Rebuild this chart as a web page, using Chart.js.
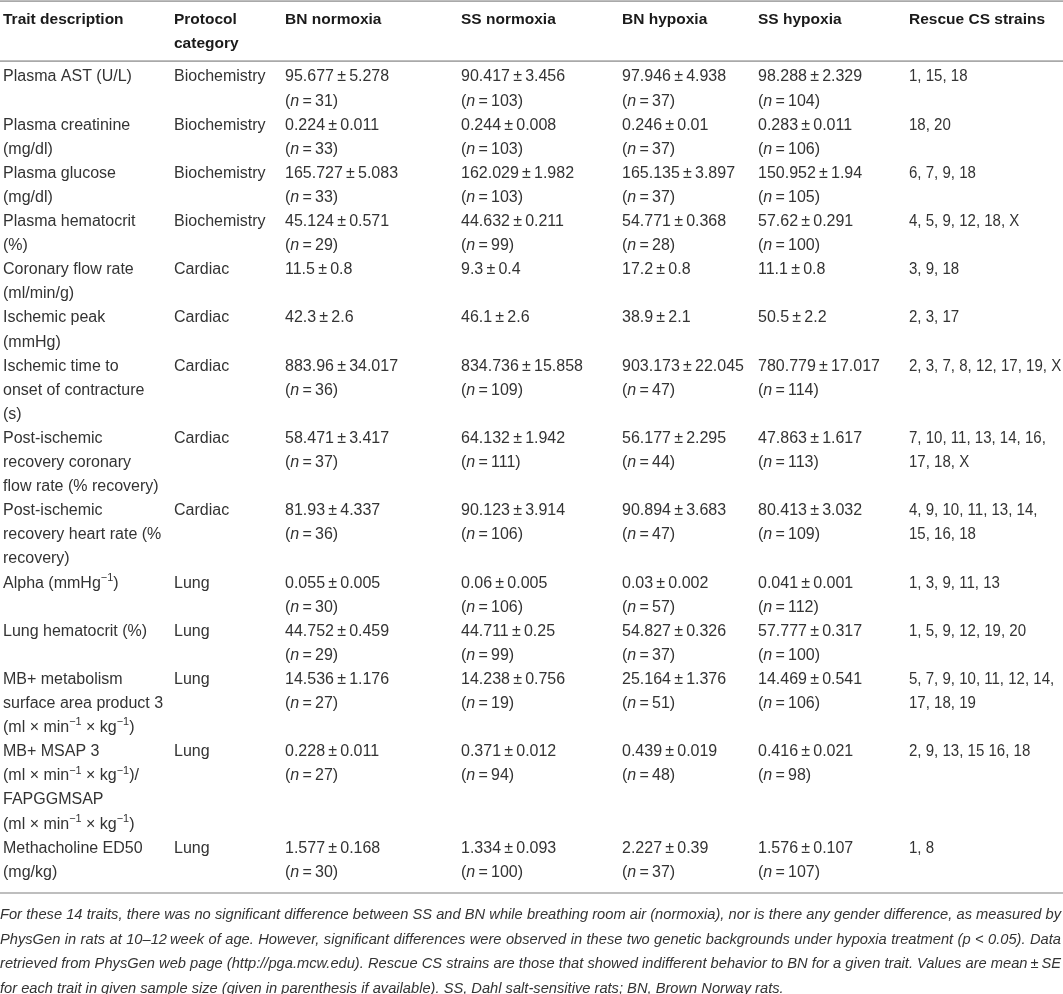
<!DOCTYPE html>
<html>
<head>
<meta charset="utf-8">
<title>PhysGen traits table</title>
<script src="https://cdn.jsdelivr.net/npm/chart.js@4.4.1/dist/chart.umd.min.js"></script>
<style>
  html, body { margin: 0; padding: 0; background: #fff; overflow: hidden; }
  canvas { display: block; }
</style>
</head>
<body>
<canvas id="traitTable" width="1063" height="994"></canvas>
<script>
// ---- table data ----
const colHeaders = [['Trait description'], ['Protocol', 'category'], ['BN normoxia'], ['SS normoxia'],
    ['BN hypoxia'], ['SS hypoxia'], ['Rescue CS strains']];

const traitLines = [
    ['Plasma AST (U/L)'],
    ['Plasma creatinine', '(mg/dl)'],
    ['Plasma glucose', '(mg/dl)'],
    ['Plasma hematocrit', '(%)'],
    ['Coronary flow rate', '(ml/min/g)'],
    ['Ischemic peak', '(mmHg)'],
    ['Ischemic time to', 'onset of contracture', '(s)'],
    ['Post-ischemic', 'recovery coronary', 'flow rate (% recovery)'],
    ['Post-ischemic', 'recovery heart rate (%', 'recovery)'],
    ['Alpha (mmHg^\u22121^)'],
    ['Lung hematocrit (%)'],
    ['MB+ metabolism', 'surface area product 3', '(ml \u00d7 min^\u22121^ \u00d7 kg^\u22121^)'],
    ['MB+ MSAP 3', '(ml \u00d7 min^\u22121^ \u00d7 kg^\u22121^)/', 'FAPGGMSAP', '(ml \u00d7 min^\u22121^ \u00d7 kg^\u22121^)'],
    ['Methacholine ED50', '(mg/kg)']
];

const categories = ['Biochemistry', 'Biochemistry', 'Biochemistry', 'Biochemistry', 'Cardiac', 'Cardiac',
    'Cardiac', 'Cardiac', 'Cardiac', 'Lung', 'Lung', 'Lung', 'Lung', 'Lung'];

const bnNormMean = [95.677, 0.224, 165.727, 45.124, 11.5, 42.3, 883.96, 58.471, 81.93, 0.055, 44.752, 14.536, 0.228, 1.577];
const bnNormSE   = [5.278, 0.011, 5.083, 0.571, 0.8, 2.6, 34.017, 3.417, 4.337, 0.005, 0.459, 1.176, 0.011, 0.168];
const bnNormN    = [31, 33, 33, 29, null, null, 36, 37, 36, 30, 29, 27, 27, 30];

const ssNormMean = [90.417, 0.244, 162.029, 44.632, 9.3, 46.1, 834.736, 64.132, 90.123, 0.06, 44.711, 14.238, 0.371, 1.334];
const ssNormSE   = [3.456, 0.008, 1.982, 0.211, 0.4, 2.6, 15.858, 1.942, 3.914, 0.005, 0.25, 0.756, 0.012, 0.093];
const ssNormN    = [103, 103, 103, 99, null, null, 109, 111, 106, 106, 99, 19, 94, 100];

const bnHypMean = [97.946, 0.246, 165.135, 54.771, 17.2, 38.9, 903.173, 56.177, 90.894, 0.03, 54.827, 25.164, 0.439, 2.227];
const bnHypSE   = [4.938, 0.01, 3.897, 0.368, 0.8, 2.1, 22.045, 2.295, 3.683, 0.002, 0.326, 1.376, 0.019, 0.39];
const bnHypN    = [37, 37, 37, 28, null, null, 47, 44, 47, 57, 37, 51, 48, 37];

const ssHypMean = [98.288, 0.283, 150.952, 57.62, 11.1, 50.5, 780.779, 47.863, 80.413, 0.041, 57.777, 14.469, 0.416, 1.576];
const ssHypSE   = [2.329, 0.011, 1.94, 0.291, 0.8, 2.2, 17.017, 1.617, 3.032, 0.001, 0.317, 0.541, 0.021, 0.107];
const ssHypN    = [104, 106, 105, 100, null, null, 114, 113, 109, 112, 100, 106, 98, 107];

const rescueStrains = [
    ['1, 15, 18'], ['18, 20'], ['6, 7, 9, 18'], ['4, 5, 9, 12, 18, X'], ['3, 9, 18'], ['2, 3, 17'],
    ['2, 3, 7, 8, 12, 17, 19, X'], ['7, 10, 11, 13, 14, 16,', '17, 18, X'], ['4, 9, 10, 11, 13, 14,', '15, 16, 18'],
    ['1, 3, 9, 11, 13'], ['1, 5, 9, 12, 19, 20'], ['5, 7, 9, 10, 11, 12, 14,', '17, 18, 19'],
    ['2, 9, 13, 15 16, 18'], ['1, 8']
];

const footnoteLines = [
    'For these 14 traits, there was no significant difference between SS and BN while breathing room air (normoxia), nor is there any gender difference, as measured by',
    'PhysGen in rats at 10\u201312\u2009week of age. However, significant differences were observed in these two genetic backgrounds under hypoxia treatment (p < 0.05). Data',
    'retrieved from PhysGen web page (http://pga.mcw.edu). Rescue CS strains are those that showed indifferent behavior to BN for a given trait. Values are mean\u2009\u00b1\u2009SE',
    'for each trait in given sample size (given in parenthesis if available). SS, Dahl salt-sensitive rats; BN, Brown Norway rats.'
];

// ---- layout (pixels / line units) ----
const W = 1063, H = 994;
const colLeft = [3, 174, 285, 461, 622, 758, 909];
const linePx = 24.1;       // one table line
const firstLinePx = 77;    // centre of the first body line
const noteRight = 1061;
const strainSquash = 0.94; // strain lists are set tighter in the source
const FONT = '"Liberation Sans", Arial, Helvetica, sans-serif';

const groups = [
    [bnNormMean, bnNormSE, bnNormN],
    [ssNormMean, ssNormSE, ssNormN],
    [bnHypMean, bnHypSE, bnHypN],
    [ssHypMean, ssHypSE, ssHypN]
];

// build text points in line units
const textPoints = [];
colHeaders.forEach((lines, c) => {
    lines.forEach((t, k) => textPoints.push({ x: colLeft[c], y: -2.37 + k * 0.97, text: t, kind: 'head' }));
});

let line = 0;
traitLines.forEach((tl, r) => {
    const cells = [tl, [categories[r]]];
    groups.forEach(([m, se, n]) => {
        const v = [m[r] + '\u2009\u00b1\u2009' + se[r]];
        if (n[r] != null) v.push('(*n*\u2009=\u2009' + n[r] + ')');
        cells.push(v);
    });
    cells.push(rescueStrains[r]);
    let rowLines = 1;
    cells.forEach((cl, c) => {
        cl.forEach((t, k) => textPoints.push({ x: colLeft[c], y: line + k, text: t, kind: c === 6 ? 'strain' : 'body' }));
        rowLines = Math.max(rowLines, cl.length);
    });
    line += rowLines;
});
const totalLines = line;

const noteStart = totalLines + 0.77;
footnoteLines.forEach((t, k) => {
    textPoints.push({ x: 0, y: noteStart + k * 1.017, text: t, kind: 'note', justify: k < footnoteLines.length - 1 });
});

const ruleLevels = [-3.15, -0.66, totalLines - 0.14];

const yMin = -firstLinePx / linePx;
const yMax = yMin + H / linePx;

// ---- drawing helpers ----
function setFont(ctx, size, bold, italic) {
    ctx.font = (italic ? 'italic ' : '') + (bold ? 'bold ' : '') + size + 'px ' + FONT;
}

// *x* = italic, ^x^ = superscript
function drawRich(ctx, str, x, y, size, bold, italic) {
    const parts = str.split(/(\^[^^]*\^|\*[^*]*\*)/);
    let cx = x;
    parts.forEach(p => {
        if (!p) return;
        let t = p, it = italic, sup = false;
        if (p[0] === '^') { t = p.slice(1, -1); sup = true; }
        else if (p[0] === '*') { t = p.slice(1, -1); it = true; }
        const fs = sup ? size * 0.68 : size;
        setFont(ctx, fs, bold, it);
        ctx.fillText(t, cx, sup ? y - size * 0.33 : y);
        cx += ctx.measureText(t).width;
    });
}

// largest italic size (<= max) at which every footnote line fits with plain spaces
function noteSize(ctx, lines, width, max) {
    let size = max;
    lines.forEach(t => {
        setFont(ctx, size, false, true);
        const w = ctx.measureText(t).width;
        if (w > width) size = size * width / w;
    });
    return size;
}

function drawJustified(ctx, str, x, y, right, size) {
    setFont(ctx, size, false, true);
    const words = str.split(' ');
    const widths = words.map(w => ctx.measureText(w).width);
    const total = widths.reduce((a, b) => a + b, 0);
    const gap = (right - x - total) / (words.length - 1);
    let cx = x;
    words.forEach((w, i) => {
        ctx.fillText(w, cx, y);
        cx += widths[i] + gap;
    });
}

const tablePlugin = {
    id: 'tableText',
    afterDatasetsDraw(chart) {
        const ctx = chart.ctx;
        const meta = chart.getDatasetMeta(0);
        const xs = chart.scales.x;
        const right = xs.getPixelForValue(noteRight);
        const fs = noteSize(ctx, footnoteLines, right - xs.getPixelForValue(0), 15.5);
        ctx.save();
        ctx.textBaseline = 'middle';
        ctx.textAlign = 'left';
        meta.data.forEach((el, i) => {
            const p = chart.data.datasets[0].data[i];
            if (p.kind === 'head') {
                ctx.fillStyle = '#1a1a1a';
                drawRich(ctx, p.text, el.x, el.y, 15.5, true, false);
            } else if (p.kind === 'body') {
                ctx.fillStyle = '#333333';
                drawRich(ctx, p.text, el.x, el.y, 16, false, false);
            } else if (p.kind === 'strain') {
                ctx.fillStyle = '#333333';
                ctx.save();
                ctx.translate(el.x, el.y);
                ctx.scale(strainSquash, 1);
                drawRich(ctx, p.text, 0, 0, 16, false, false);
                ctx.restore();
            } else {
                ctx.fillStyle = '#333333';
                if (p.justify) drawJustified(ctx, p.text, el.x, el.y, right, fs);
                else drawRich(ctx, p.text, el.x, el.y, fs, false, true);
            }
        });
        ctx.restore();
    }
};

const ruleSets = ruleLevels.map(r => ({
    type: 'line',
    data: [{ x: 0, y: r }, { x: W, y: r }],
    borderColor: '#a9a9a9',
    borderWidth: 1.6,
    pointRadius: 0,
    fill: false
}));

new Chart(document.getElementById('traitTable').getContext('2d'), {
    type: 'scatter',
    data: {
        datasets: [{
            data: textPoints,
            pointRadius: 0,
            pointHoverRadius: 0,
            showLine: false
        }].concat(ruleSets)
    },
    options: {
        responsive: false,
        animation: false,
        events: [],
        layout: { padding: 0 },
        plugins: {
            legend: { display: false },
            tooltip: { enabled: false }
        },
        scales: {
            x: { type: 'linear', display: false, min: 0, max: W },
            y: { type: 'linear', display: false, reverse: true, min: yMin, max: yMax }
        }
    },
    plugins: [tablePlugin]
});
</script>
</body>
</html>
